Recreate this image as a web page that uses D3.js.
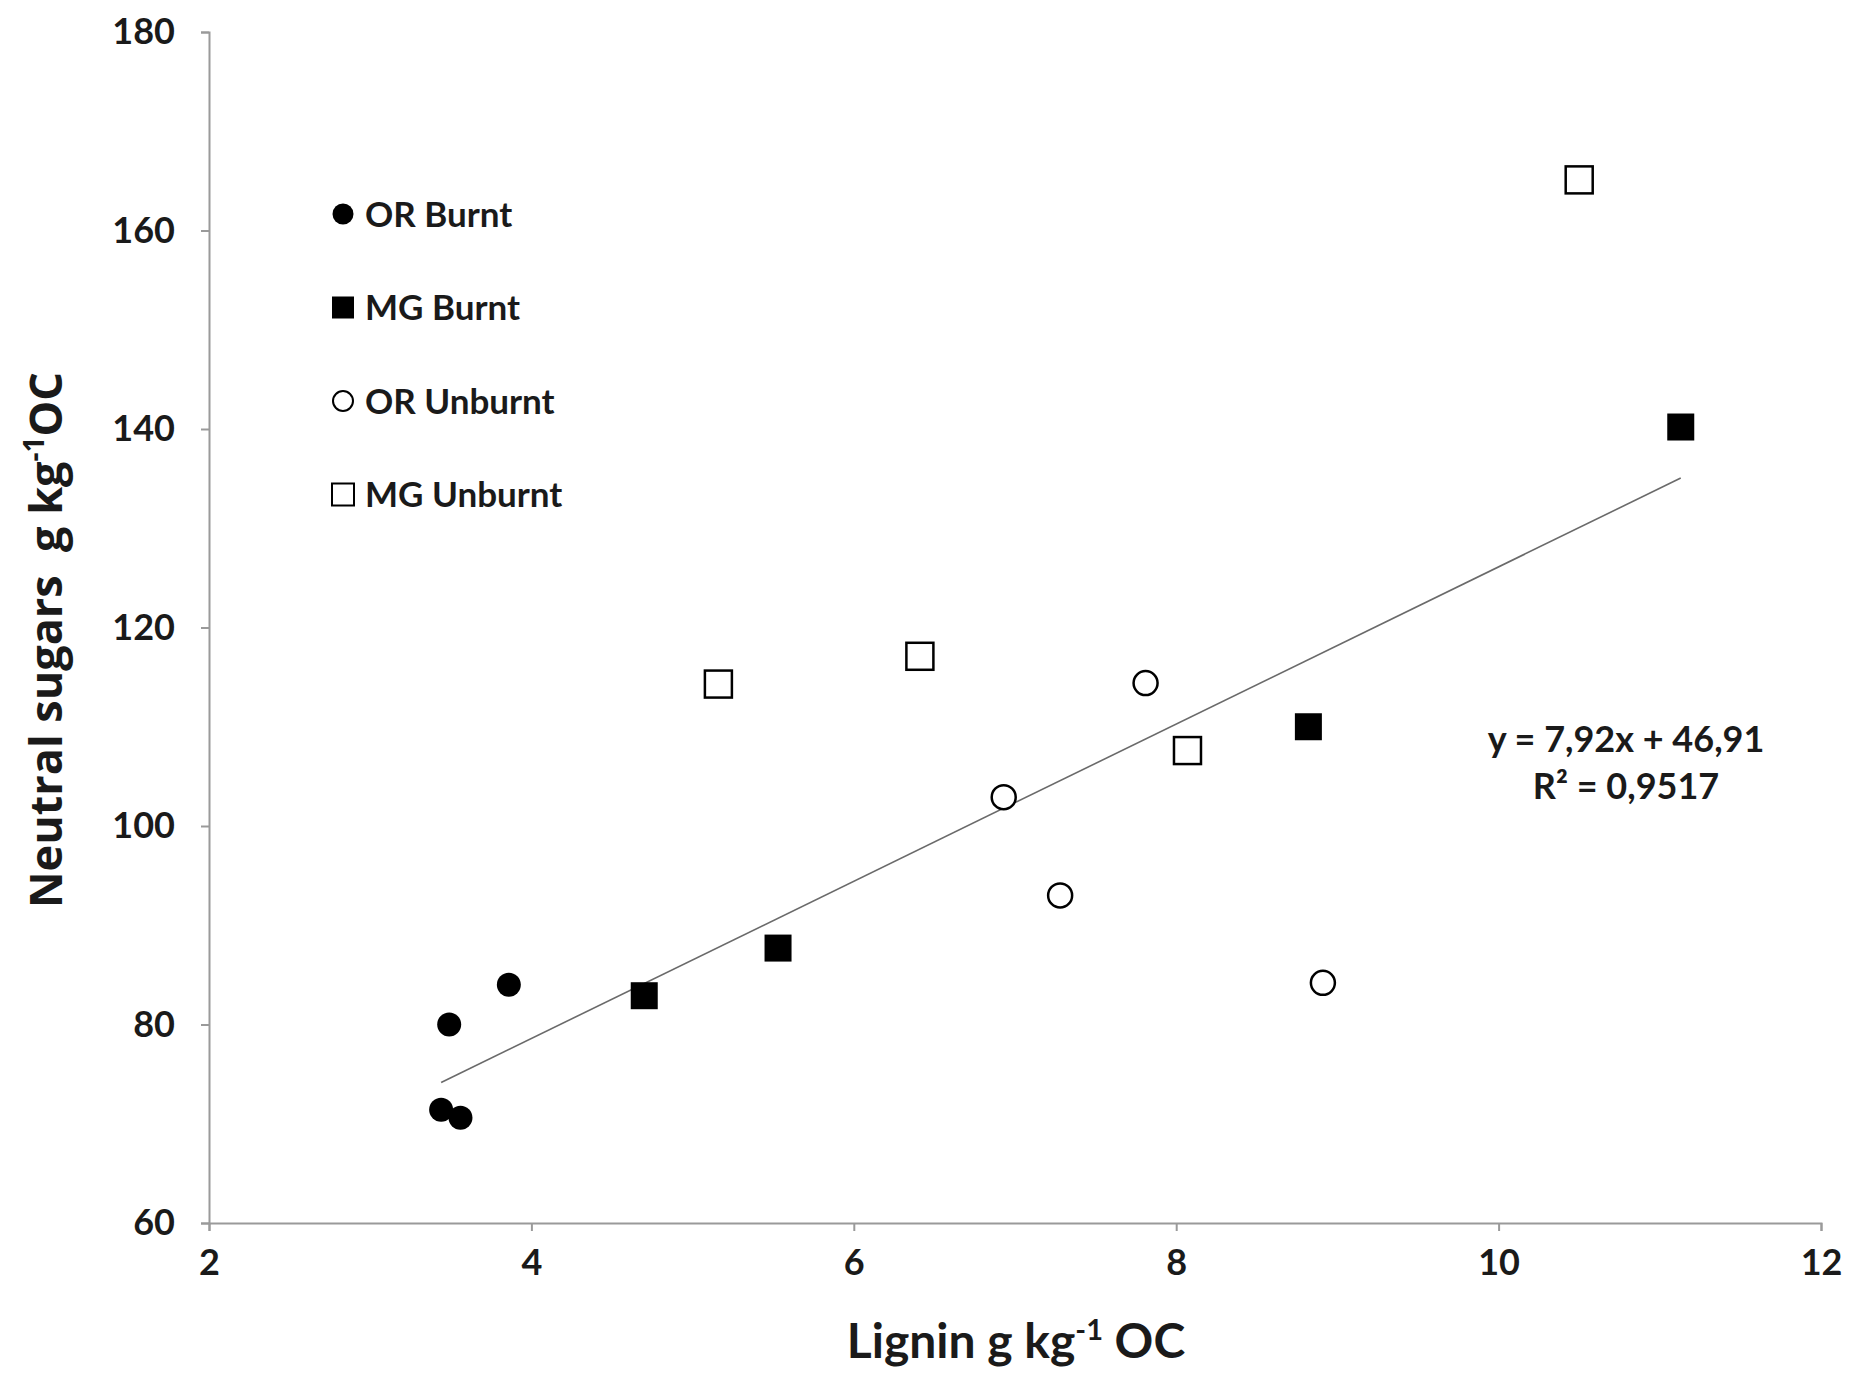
<!DOCTYPE html>
<html>
<head>
<meta charset="utf-8">
<script src="https://cdn.jsdelivr.net/npm/d3@7"></script>
<style>
  html, body { margin: 0; padding: 0; background: #fff; }
  svg { display: block; }
  text { font-family: Lato, "Open Sans", sans-serif; fill: #1a1a1a; }
</style>
</head>
<body>
<svg id="chart" width="1853" height="1374"></svg>
<script>
// data (lignin, neutral sugars), g kg-1 OC
const orBurnt   = [[3.49, 80.0], [3.86, 84.0], [3.44, 71.4], [3.56, 70.6]];
const mgBurnt   = [[4.70, 82.9], [5.53, 87.7], [8.82, 110.0], [11.13, 140.2]];
const orUnburnt = [[6.93, 102.9], [7.28, 93.0], [7.81, 114.4], [8.91, 84.2]];
const mgUnburnt = [[5.16, 114.3], [6.41, 117.1], [8.07, 107.6], [10.50, 165.1]];

const xTicks = [2, 4, 6, 8, 10, 12];
const yTicks = [60, 80, 100, 120, 140, 160, 180];

const slope = 7.92, intercept = 46.91;
const eqLines = ["y = 7,92x + 46,91", "R² = 0,9517"];

const legendNames = ["OR Burnt", "MG Burnt", "OR Unburnt", "MG Unburnt"];

(function () {
    const svg = d3.select("#chart");
    const margin = { top: 32, right: 32, bottom: 151, left: 209 };
    const width = 1853 - margin.left - margin.right;
    const height = 1374 - margin.top - margin.bottom;

    const g = svg.append("g").attr("transform", `translate(${margin.left},${margin.top})`);

    const x = d3.scaleLinear().domain([2, 12]).range([0, width]);
    const y = d3.scaleLinear().domain([60, 180]).range([height, 0]);

    // === Axes ===
    const axisColor = "#9a9a9a";
    const xAxis = g.append("g")
        .attr("transform", `translate(0,${height})`)
        .call(d3.axisBottom(x).tickValues(xTicks).tickSize(8).tickPadding(18).tickFormat(d => d));
    const yAxis = g.append("g")
        .call(d3.axisLeft(y).tickValues(yTicks).tickSize(8).tickPadding(26).tickFormat(d => d));

    [xAxis, yAxis].forEach(a => {
        a.selectAll("path, line").attr("stroke", axisColor).attr("stroke-width", 2);
        a.selectAll("text")
            .style("font-family", "Lato, sans-serif")
            .style("font-size", "36px")
            .style("font-weight", "bold")
            .attr("fill", "#1a1a1a");
    });
    xAxis.selectAll("text").attr("dy", "0.71em");

    // axis titles
    const xt = svg.append("text")
        .attr("x", 1016)
        .attr("y", 1358)
        .attr("text-anchor", "middle")
        .style("font-size", "48px")
        .style("font-weight", "bold");
    xt.append("tspan").text("Lignin g kg");
    xt.append("tspan").attr("dy", -18).style("font-size", "29px").text("-1");
    xt.append("tspan").attr("dy", 18).text(" OC");

    const yt = svg.append("text")
        .attr("transform", "translate(62,640) rotate(-90)")
        .attr("text-anchor", "middle")
        .style("font-family", "'Open Sans', sans-serif")
        .style("font-size", "45px")
        .style("font-weight", "bold")
        .attr("xml:space", "preserve");
    yt.append("tspan").text("Neutral sugars\u00a0 g kg");
    yt.append("tspan").attr("dy", -18).style("font-size", "28px").text("-1");
    yt.append("tspan").attr("dy", 18).text("OC");

    // === Trend line ===
    const allX = [...orBurnt, ...mgBurnt, ...orUnburnt, ...mgUnburnt].map(d => d[0]);
    const [x0, x1] = d3.extent(allX);
    g.append("line")
        .attr("x1", x(x0)).attr("y1", y(slope * x0 + intercept))
        .attr("x2", x(x1)).attr("y2", y(slope * x1 + intercept))
        .attr("stroke", "#6a6a6a")
        .attr("stroke-width", 1.6);

    // === Points ===
    const circR = 12, sqS = 27;
    g.append("g").selectAll("circle.orb").data(orBurnt).join("circle")
        .attr("cx", d => x(d[0])).attr("cy", d => y(d[1]))
        .attr("r", circR).attr("fill", "#000");
    g.append("g").selectAll("rect.mgb").data(mgBurnt).join("rect")
        .attr("x", d => x(d[0]) - sqS / 2).attr("y", d => y(d[1]) - sqS / 2)
        .attr("width", sqS).attr("height", sqS).attr("fill", "#000");
    g.append("g").selectAll("circle.oru").data(orUnburnt).join("circle")
        .attr("cx", d => x(d[0])).attr("cy", d => y(d[1]))
        .attr("r", circR).attr("fill", "#fff").attr("stroke", "#000").attr("stroke-width", 2.5);
    g.append("g").selectAll("rect.mgu").data(mgUnburnt).join("rect")
        .attr("x", d => x(d[0]) - sqS / 2).attr("y", d => y(d[1]) - sqS / 2)
        .attr("width", sqS).attr("height", sqS)
        .attr("fill", "#fff").attr("stroke", "#000").attr("stroke-width", 2.5);

    // === Equation ===
    eqLines.forEach((t, i) => {
        svg.append("text")
            .attr("x", 1626).attr("y", 752 + i * 47)
            .attr("text-anchor", "middle")
            .style("font-size", "36px")
            .style("font-weight", "bold")
            .text(t);
    });

    // === Legend ===
    const leg = svg.append("g").attr("transform", "translate(343,214)");
    const rowH = 93.5;
    legendNames.forEach((name, i) => {
        const row = leg.append("g").attr("transform", `translate(0,${i * rowH})`);
        if (i === 0) row.append("circle").attr("r", 10.5).attr("fill", "#000");
        if (i === 1) row.append("rect").attr("x", -11).attr("y", -11).attr("width", 22).attr("height", 22).attr("fill", "#000");
        if (i === 2) row.append("circle").attr("r", 10).attr("fill", "#fff").attr("stroke", "#000").attr("stroke-width", 2);
        if (i === 3) row.append("rect").attr("x", -11).attr("y", -11).attr("width", 22).attr("height", 22)
            .attr("fill", "#fff").attr("stroke", "#000").attr("stroke-width", 2);
        row.append("text")
            .attr("x", 22).attr("dy", "0.36em")
            .style("font-size", "35px")
            .style("font-weight", "bold")
            .text(name);
    });
})();
</script>
</body>
</html>
